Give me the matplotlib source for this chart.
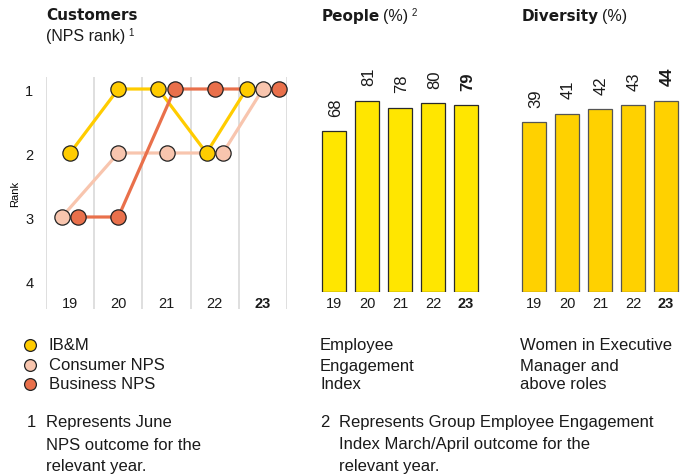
import matplotlib
matplotlib.use("Agg")
from matplotlib import pyplot as plt

W, H = 686, 477
DPI = 100

YEARS = ["19", "20", "21", "22", "23"]

# NPS rank for each year
IBM_RANK = [2, 1, 1, 2, 1]
CONSUMER_RANK = [3, 2, 2, 2, 1]
BUSINESS_RANK = [3, 3, 1, 1, 1]
SERIES_NAMES = ["IB&M", "Consumer NPS", "Business NPS"]

ENGAGEMENT = [68, 81, 78, 80, 79]
WOMEN_EXEC = [39, 41, 42, 43, 44]

YELLOW = "#FFCC00"
PEACH = "#F8C5AE"
CORAL = "#E9704B"
BAR_PEOPLE = "#FFE600"
BAR_DIVERSITY = "#FFD100"
GRID = "#D9D9D9"
TEXT = "#1A1A1A"

BODY = ["Liberation Sans", "DejaVu Sans"]
HEAVY = ["DejaVu Sans"]

plt.rcParams["font.family"] = BODY
plt.rcParams["text.color"] = TEXT

fig = plt.figure(figsize=(W / DPI, H / DPI), dpi=DPI)


def fx(x):
    return x / W


def fy(y):
    return 1 - y / H


def px_axes(left, top, right, bottom):
    return fig.add_axes([fx(left), fy(bottom), (right - left) / W, (bottom - top) / H])


def text_row(x, y, parts):
    # lay text pieces side by side, each starting where the previous ended
    renderer = fig.canvas.get_renderer()
    for s, dy, gap, kw in parts:
        t = fig.text(fx(x), fy(y + dy), s, va="center", ha="left", **kw)
        x += t.get_window_extent(renderer).width + gap


# ---- Customers: NPS rank ----
ax = px_axes(46, 78, 287, 310)
ax.set_xlim(0, 5)
ax.set_ylim(4 + 28 / 64, 1 - 12 / 64)
for s in ax.spines.values():
    s.set_visible(False)
for i in range(6):
    ax.axvline(i, color=GRID, lw=1.2, zorder=0)
ax.set_xticks([])
ax.set_yticks([1, 2, 3, 4])
ax.tick_params(axis="y", length=0, pad=9, labelsize=10.5, labelcolor=TEXT)
ax.set_ylabel("Rank", fontsize=8, labelpad=4)

ranks = [IBM_RANK, CONSUMER_RANK, BUSINESS_RANK]
colours = [YELLOW, PEACH, CORAL]
dodge = 0.34
xs = [[0.0] * len(YEARS) for _ in ranks]
for j in range(len(YEARS)):
    for r in set(s[j] for s in ranks):
        members = [i for i, s in enumerate(ranks) if s[j] == r]
        for k, i in enumerate(members):
            xs[i][j] = j + 0.5 + (k - (len(members) - 1) / 2) * dodge

line_order = [1, 0, 2]
for z, i in enumerate(line_order):
    ax.plot(xs[i], ranks[i], color=colours[i], lw=2.3, zorder=2 + z, solid_capstyle="butt")
for i in range(len(ranks)):
    ax.plot(xs[i], ranks[i], ls="none", marker="o", ms=11, mfc=colours[i],
            mec="#222222", mew=0.9, zorder=6)

for j, yr in enumerate(YEARS):
    ax.text(j + 0.5, 4 + 22 / 64, yr, ha="center", va="center", fontsize=10.5,
            fontweight="bold" if j == len(YEARS) - 1 else "normal")


# ---- bar panels ----
def bar_panel(left, values, colour, edge, px_per_unit):
    bax = px_axes(left, 60, left + 165, 293)
    pos = list(range(len(values)))
    bax.bar(pos, values, width=0.73, color=colour, edgecolor=edge, linewidth=0.9)
    bax.set_xlim(-0.5, len(values) - 0.5)
    bax.set_ylim(0, 233 / px_per_unit)
    for s in bax.spines.values():
        s.set_visible(False)
    bax.set_yticks([])
    bax.set_xticks(pos)
    bax.set_xticklabels(YEARS)
    bax.tick_params(axis="x", length=0, pad=3, labelsize=10.5, labelcolor=TEXT)
    bax.get_xticklabels()[-1].set_fontweight("bold")
    for p, v in zip(pos, values):
        bax.annotate(str(v), (p, v), xytext=(1, 11), textcoords="offset points",
                     rotation=90, ha="center", va="bottom", fontsize=12,
                     fontweight="bold" if p == len(values) - 1 else "normal")
    return bax


bar_panel(317.5, ENGAGEMENT, BAR_PEOPLE, "#2A2A2A", 2.362)
bar_panel(517.5, WOMEN_EXEC, BAR_DIVERSITY, "#555555", 4.348)

# ---- titles ----
text_row(46, 16, [("Customers", 0, 0, dict(fontsize=11, fontweight="bold", family=HEAVY))])
text_row(46, 37, [("(NPS rank)", 0, 3, dict(fontsize=11.5)),
                  ("1", -4, 0, dict(fontsize=7))])
text_row(322, 17, [("People", 0, 3, dict(fontsize=11, fontweight="bold", family=HEAVY)),
                   ("(%)", 0, 3, dict(fontsize=11.5)),
                   ("2", -4, 0, dict(fontsize=7))])
text_row(522, 17, [("Diversity", 0, 3, dict(fontsize=11, fontweight="bold", family=HEAVY)),
                   ("(%)", 0, 0, dict(fontsize=11.5))])

# ---- legend and captions ----
row_y = [346, 366, 385]
for name, c, y in zip(SERIES_NAMES, colours, row_y):
    fig.lines.append(plt.Line2D([fx(30)], [fy(y)], transform=fig.transFigure,
                                marker="o", ms=8.5, mfc=c, mec="#222222", mew=0.9))
    fig.text(fx(49), fy(y), name, va="center", fontsize=12)

for line, y in zip(["Employee", "Engagement", "Index"], row_y):
    fig.text(fx(320), fy(y), line, va="center", fontsize=12)
for line, y in zip(["Women in Executive", "Manager and", "above roles"], row_y):
    fig.text(fx(520), fy(y), line, va="center", fontsize=12)

note_y = [423, 445, 467]
fig.text(fx(27), fy(note_y[0]), "1", va="center", fontsize=12)
for line, y in zip(["Represents June", "NPS outcome for the", "relevant year."], note_y):
    fig.text(fx(46), fy(y), line, va="center", fontsize=12)
fig.text(fx(320), fy(note_y[0]), "2", va="center", fontsize=12)
for line, y in zip(["Represents Group Employee Engagement",
                    "Index March/April outcome for the", "relevant year."], note_y):
    fig.text(fx(339), fy(y), line, va="center", fontsize=12)

fig.savefig("out.png", dpi=DPI)
